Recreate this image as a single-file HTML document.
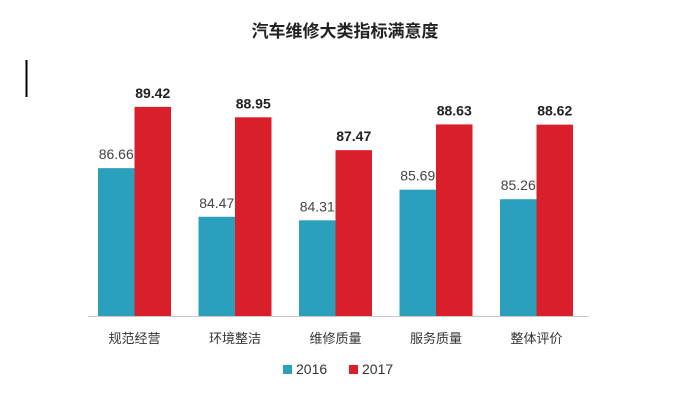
<!DOCTYPE html>
<html><head><meta charset="utf-8"><style>
body{margin:0;background:#fff;}
svg text{font-family:"Liberation Sans","Noto Sans CJK SC",sans-serif;}
</style></head><body>
<svg width="694" height="400" viewBox="0 0 694 400">
<rect width="694" height="400" fill="#fff"/>
<text x="345" y="37" text-anchor="middle" font-size="17" font-weight="bold" fill="#222">汽车维修大类指标满意度</text>
<line x1="26.5" y1="60" x2="26.5" y2="97" stroke="#000" stroke-width="2"/>
<line x1="88" y1="316.5" x2="589" y2="316.5" stroke="#c8c8c8" stroke-width="1"/>
<g id="bars"></g>
<g>
<rect x="283" y="365" width="9" height="9" fill="#2aa0bd"/>
<text x="296" y="374" font-size="14" fill="#333">2016</text>
<rect x="349" y="365" width="9" height="9" fill="#d91f2a"/>
<text x="362" y="374" font-size="14" fill="#333">2017</text>
</g>
</svg>
<script>
const categories=["规范经营","环境整洁","维修质量","服务质量","整体评价"];
const values2016=[86.66,84.47,84.31,85.69,85.26];
const values2017=[89.42,88.95,87.47,88.63,88.62];
const yMin=80, baseY=316, pxPerUnit=22.2;
function y(v){return baseY-(v-yMin)*pxPerUnit;}
function gx(i){return 98+i*100.5;}
const bw=36.5;
const g=document.getElementById('bars');
const NS="http://www.w3.org/2000/svg";
function mk(t,a){const e=document.createElementNS(NS,t);for(const k in a)e.setAttribute(k,a[k]);return e;}
categories.forEach((c,i)=>{
  const x=gx(i);
  const b1=mk('rect',{x:x,y:y(values2016[i]),width:bw,height:baseY-y(values2016[i]),fill:'#2aa0bd'});
  
  
  g.appendChild(b1);
  const b2=mk('rect',{x:x+bw,y:y(values2017[i]),width:bw,height:baseY-y(values2017[i]),fill:'#d91f2a'});
  
  
  g.appendChild(b2);
  const t1=mk('text',{x:x+bw/2,y:y(values2016[i])-9,'text-anchor':'middle','font-size':'14',fill:'#444'});
  t1.textContent=values2016[i].toFixed(2);
  
  
  g.appendChild(t1);
  const t2=mk('text',{x:x+bw*1.5,y:y(values2017[i])-9,'text-anchor':'middle','font-size':'14','font-weight':'bold',fill:'#222'});
  t2.textContent=values2017[i].toFixed(2);
  
  
  g.appendChild(t2);
  const l=mk('text',{x:x+bw,y:343,'text-anchor':'middle','font-size':'13',fill:'#333'});
  l.textContent=c;
  
  
  g.appendChild(l);
});
</script>
</body></html>
